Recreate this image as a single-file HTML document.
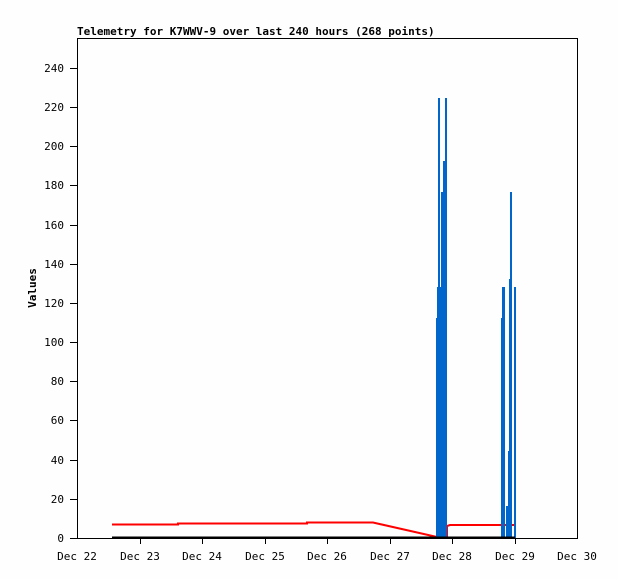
<!DOCTYPE html>
<html><head><style>
body{margin:0;background:#fff;}
svg{display:block;}
text{font-family:"DejaVu Sans Mono","Liberation Mono",monospace;font-size:11px;fill:#000;}
</style></head><body>
<svg width="618" height="579" viewBox="0 0 618 579">
<rect width="618" height="579" fill="#fefefe"/>
<text x="77" y="35" font-weight="bold" font-size="11">Telemetry for K7WWV-9 over last 240 hours (268 points)</text>
<rect x="77.5" y="38.5" width="500" height="500" fill="none" stroke="#000"/>
<g stroke="#000">
<line x1="70" y1="68.5" x2="77" y2="68.5"/><line x1="70" y1="107.5" x2="77" y2="107.5"/>
<line x1="70" y1="146.5" x2="77" y2="146.5"/><line x1="70" y1="185.5" x2="77" y2="185.5"/>
<line x1="70" y1="225.5" x2="77" y2="225.5"/><line x1="70" y1="264.5" x2="77" y2="264.5"/>
<line x1="70" y1="303.5" x2="77" y2="303.5"/><line x1="70" y1="342.5" x2="77" y2="342.5"/>
<line x1="70" y1="381.5" x2="77" y2="381.5"/><line x1="70" y1="420.5" x2="77" y2="420.5"/>
<line x1="70" y1="460.5" x2="77" y2="460.5"/><line x1="70" y1="499.5" x2="77" y2="499.5"/>
<line x1="70" y1="538.5" x2="77" y2="538.5"/>
<line x1="140.5" y1="538" x2="140.5" y2="544"/><line x1="202.5" y1="538" x2="202.5" y2="544"/>
<line x1="265.5" y1="538" x2="265.5" y2="544"/><line x1="327.5" y1="538" x2="327.5" y2="544"/>
<line x1="390.5" y1="538" x2="390.5" y2="544"/><line x1="452.5" y1="538" x2="452.5" y2="544"/>
<line x1="515.5" y1="538" x2="515.5" y2="544"/>
</g>
<g text-anchor="end">
<text x="64" y="72">240</text><text x="64" y="111">220</text><text x="64" y="150">200</text>
<text x="64" y="189">180</text><text x="64" y="229">160</text><text x="64" y="268">140</text>
<text x="64" y="307">120</text><text x="64" y="346">100</text><text x="64" y="385">80</text>
<text x="64" y="424">60</text><text x="64" y="464">40</text><text x="64" y="503">20</text>
<text x="64" y="542">0</text>
</g>
<g text-anchor="middle">
<text x="77" y="560">Dec 22</text><text x="140" y="560">Dec 23</text><text x="202" y="560">Dec 24</text>
<text x="265" y="560">Dec 25</text><text x="327" y="560">Dec 26</text><text x="390" y="560">Dec 27</text>
<text x="452" y="560">Dec 28</text><text x="515" y="560">Dec 29</text><text x="577" y="560">Dec 30</text>
</g>
<text transform="translate(36,288) rotate(-90)" text-anchor="middle" font-weight="bold">Values</text>
<polyline points="112,524.5 178,524.5 178,523.5 307,523.5 307,522.5 373,522.5 437,537 447,537 447,526 450,525 515,525" fill="none" stroke="#f00" stroke-width="2"/>
<g fill="#0066cc">
<rect x="436" y="318" width="2" height="220"/><rect x="437" y="287" width="3" height="251"/>
<rect x="438" y="98" width="2" height="440"/><rect x="441" y="192" width="2" height="346"/>
<rect x="443" y="161" width="2" height="377"/><rect x="445" y="98" width="2" height="440"/>
<rect x="440" y="287" width="1" height="251"/>
<rect x="501" y="318" width="2" height="220"/><rect x="502" y="287" width="3" height="251"/>
<rect x="506" y="506" width="2" height="32"/><rect x="508" y="451" width="2" height="87"/>
<rect x="509" y="279" width="2" height="259"/><rect x="510" y="192" width="2" height="346"/>
<rect x="514" y="287" width="2" height="251"/>
</g>
<line x1="112" y1="537.5" x2="515" y2="537.5" stroke="#000" stroke-width="2"/>
</svg>
</body></html>
